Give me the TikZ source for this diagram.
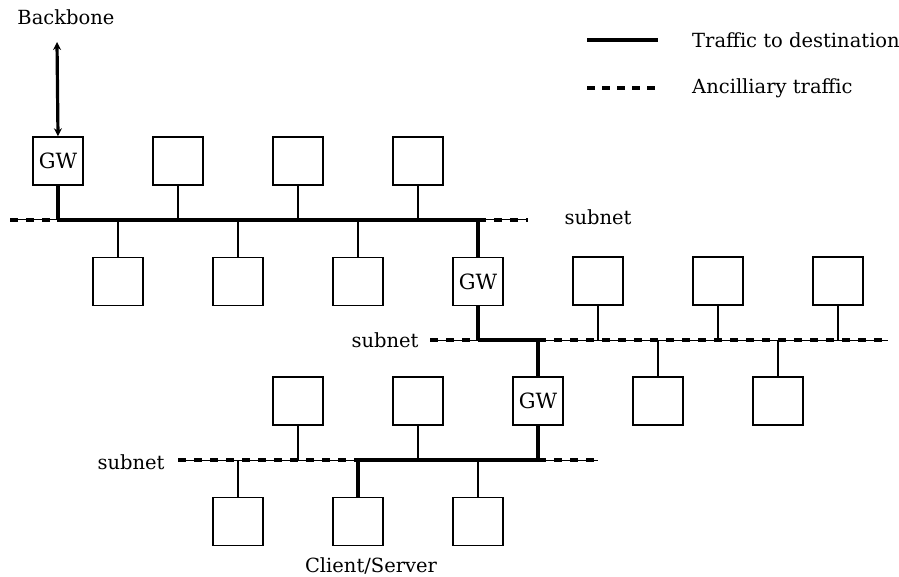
\documentclass[tikz,border=0pt]{standalone}
\usepackage{fontspec}
\setmainfont{DejaVu Serif}
\usetikzlibrary{arrows.meta}
\begin{document}
\begin{tikzpicture}[x=1pt,y=-1pt,
  host/.style={draw,line width=1.5pt,minimum width=50pt,minimum height=48pt,inner sep=0pt,font=\fontsize{21}{24}\selectfont},
  thinline/.style={line width=1.5pt},
  heavy/.style={line width=3.2pt},
  ancil/.style={line width=1pt,postaction={draw,line width=3.4pt,dash pattern=on 8pt off 8pt}},
  lbl/.style={font=\fontsize{19.5}{22}\selectfont,inner sep=0pt}]
\useasboundingbox (0,0) rectangle (899,577);
% bus coordinates
\coordinate (t0) at (10,220);
\coordinate (t1) at (57,220);
\coordinate (t2) at (478,220);
\coordinate (t3) at (528,220);
\coordinate (m0) at (430,340);
\coordinate (m1) at (478,340);
\coordinate (m2) at (538,340);
\coordinate (m3) at (888,340);
\coordinate (b0) at (178,460);
\coordinate (b1) at (358,460);
\coordinate (b2) at (538,460);
\coordinate (b3) at (598,460);
\coordinate (bb) at (57,42);
% hosts
\node[host] (gw1) at (58,161) {GW};
\node[host] (a2) at (178,161) {};
\node[host] (a3) at (298,161) {};
\node[host] (a4) at (418,161) {};
\node[host] (b1h) at (118,281.5) {};
\node[host] (b2h) at (238,281.5) {};
\node[host] (b3h) at (358,281.5) {};
\node[host] (gw2) at (478,281.5) {GW};
\node[host] (c1) at (598,281) {};
\node[host] (c2) at (718,281) {};
\node[host] (c3) at (838,281) {};
\node[host] (gw3) at (538,401) {GW};
\node[host] (d1) at (658,401) {};
\node[host] (d2) at (778,401) {};
\node[host] (e1) at (298,401) {};
\node[host] (e2) at (418,401) {};
\node[host] (f1) at (238,521.5) {};
\node[host] (f2) at (358,521.5) {};
\node[host] (f3) at (478,521.5) {};
% buses
\draw[ancil] (t0) -- (t1);
\draw[heavy] (t1) -- (t2);
\draw[ancil] (t2) -- (t3);
\draw[ancil] (m0) -- (m1);
\draw[heavy] (m1) -- (m2);
\draw[ancil] (m2) -- (m3);
\draw[ancil] (b0) -- (b1);
\draw[heavy] (b1) -- (b2);
\draw[ancil] (b2) -- (b3);
% stems
\draw[heavy] (gw1.south) -- (gw1.south |- t0);
\draw[thinline] (a2.south) -- (a2.south |- t0);
\draw[thinline] (a3.south) -- (a3.south |- t0);
\draw[thinline] (a4.south) -- (a4.south |- t0);
\draw[thinline] (b1h.north) -- (b1h.north |- t0);
\draw[thinline] (b2h.north) -- (b2h.north |- t0);
\draw[thinline] (b3h.north) -- (b3h.north |- t0);
\draw[heavy] (gw2.north) -- (gw2.north |- t0);
\draw[heavy] (gw2.south) -- (gw2.south |- m0);
\draw[thinline] (c1.south) -- (c1.south |- m0);
\draw[thinline] (c2.south) -- (c2.south |- m0);
\draw[thinline] (c3.south) -- (c3.south |- m0);
\draw[thinline] (d1.north) -- (d1.north |- m0);
\draw[thinline] (d2.north) -- (d2.north |- m0);
\draw[heavy] (gw3.north) -- (gw3.north |- m0);
\draw[heavy] (gw3.south) -- (gw3.south |- b0);
\draw[thinline] (e1.south) -- (e1.south |- b0);
\draw[thinline] (e2.south) -- (e2.south |- b0);
\draw[thinline] (f1.north) -- (f1.north |- b0);
\draw[heavy] (f2.north) -- (f2.north |- b0);
\draw[thinline] (f3.north) -- (f3.north |- b0);
% backbone
\draw[heavy,{Stealth[length=8pt,width=8pt]}-{Stealth[length=8pt,width=8pt]}] (bb) -- (gw1.north);
% labels
\node[lbl] (lbb) at (66,17) {Backbone};
\node[lbl] (ls1) at (598,217) {subnet};
\node[lbl] (ls2) at (385,340) {subnet};
\node[lbl] (ls3) at (131,462) {subnet};
\node[lbl] (lcs) at (371,566) {Client/Server};
% legend
\coordinate (l1a) at (587,40);
\coordinate (l1b) at (658,40);
\coordinate (l2a) at (587,88);
\coordinate (l2b) at (658,88);
\draw[heavy] (l1a) -- (l1b);
\draw[line width=3.2pt,dash pattern=on 8pt off 7pt] (l2a) -- (l2b);
\node[lbl,anchor=west] (lt1) at (692,40) {Traffic to destination};
\node[lbl,anchor=west] (lt2) at (692,88) {Ancilliary traffic};
\end{tikzpicture}
\end{document}
